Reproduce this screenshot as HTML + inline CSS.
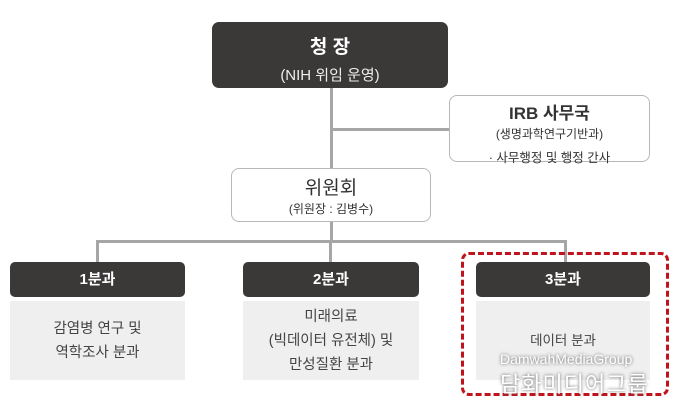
<!DOCTYPE html>
<html><head><meta charset="utf-8"><style>
body{margin:0;width:680px;height:418px;background:#fff;position:relative;overflow:hidden;font-family:"Liberation Sans","Noto Sans CJK KR",sans-serif}
div{position:absolute;box-sizing:border-box;text-align:center}
.l{background:#a6a6a6}
.h{background:#3b3838;color:#fff;font-weight:bold;font-size:15px;line-height:35px;border-radius:5px;height:35px;top:262px}
.c{background:#efefef;color:#444;font-size:14.5px;top:301px;height:79px;display:flex;align-items:center;justify-content:center;line-height:24px}
</style></head><body>
<div class="l" style="left:330px;top:87px;width:3px;height:155px"></div>
<div class="l" style="left:331px;top:128px;width:118px;height:3px"></div>
<div class="l" style="left:96px;top:240px;width:471px;height:3px"></div>
<div class="l" style="left:96px;top:240px;width:3px;height:23px"></div>
<div class="l" style="left:329px;top:240px;width:3px;height:23px"></div>
<div class="l" style="left:564px;top:240px;width:3px;height:23px"></div>
<div style="left:212px;top:22px;width:236px;height:66px;background:#3b3838;border-radius:7px;color:#fff">
<div style="position:static;font-weight:bold;font-size:19px;margin-top:10px">청 장</div>
<div style="position:static;font-size:15px;margin-top:5px;color:#eee">(NIH 위임 운영)</div></div>
<div style="left:449px;top:95px;width:201px;height:67px;border:1.5px solid #b8b8b8;border-radius:8px;background:#fff;color:#333">
<div style="position:static;font-weight:bold;font-size:17px;margin-top:3px">IRB 사무국</div>
<div style="position:static;font-size:12px;margin-top:1px">(생명과학연구기반과)</div>
<div style="position:static;font-size:12.5px;margin-top:5px">· 사무행정 및 행정 간사</div></div>
<div style="left:231px;top:168px;width:200px;height:54px;border:1.5px solid #b8b8b8;border-radius:8px;background:#fff;color:#333">
<div style="position:static;font-size:19px;margin-top:4px">위원회</div>
<div style="position:static;font-size:12px;margin-top:0px">(위원장 : 김병수)</div></div>
<div class="h" style="left:10px;width:175px">1분과</div>
<div class="h" style="left:243px;width:176px">2분과</div>
<div class="h" style="left:476px;width:174px">3분과</div>
<div class="c" style="left:10px;width:175px">감염병 연구 및<br>역학조사 분과</div>
<div class="c" style="left:243px;width:176px">미래의료<br>(빅데이터 유전체) 및<br>만성질환 분과</div>
<div class="c" style="left:476px;width:174px;font-size:13.5px">데이터 분과</div>
<div style="left:461px;top:252px;width:208px;height:144px;border:3px dashed #c0141c;border-radius:8px"></div>
<div style="left:500px;top:351px;width:170px;font-size:14px;color:#fff;text-shadow:0 0 3px #555;text-align:left">DamwahMediaGroup</div>
<div style="left:500px;top:367px;width:170px;font-size:22px;color:#fff;text-shadow:0 0 3px #555;text-align:left;letter-spacing:1px">담화미디어그룹</div>
</body></html>
